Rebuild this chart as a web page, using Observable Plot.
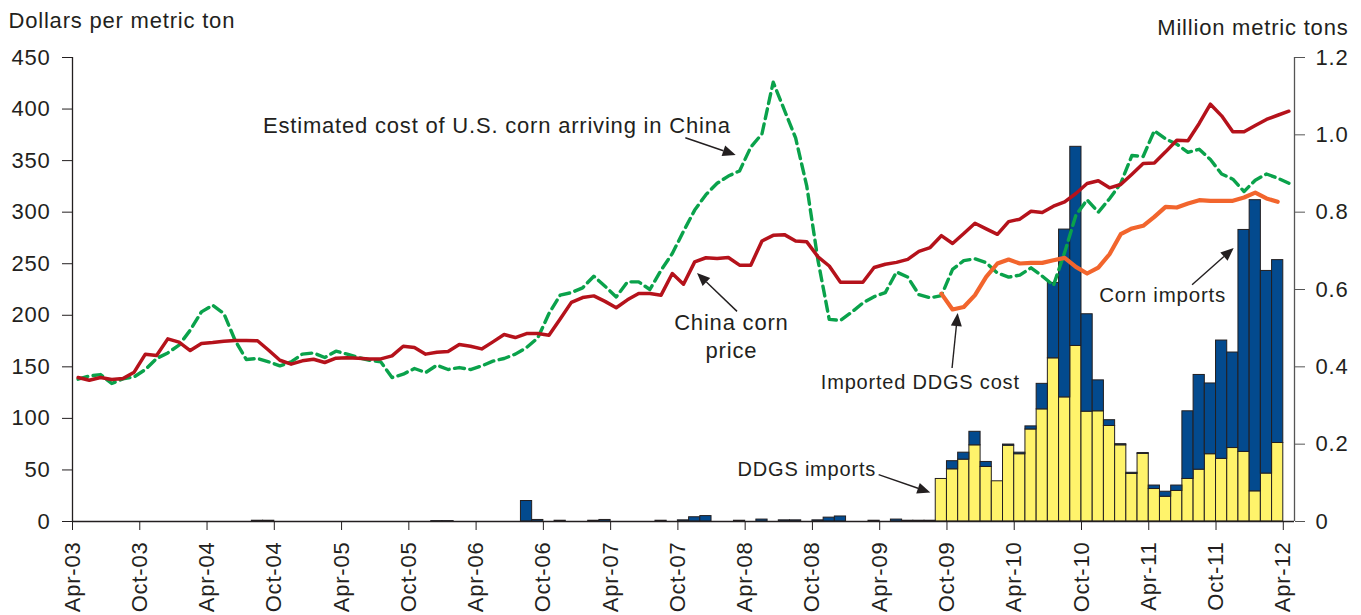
<!DOCTYPE html>
<html><head><meta charset="utf-8">
<script src="https://cdn.jsdelivr.net/npm/d3@7"></script>
<script src="https://cdn.jsdelivr.net/npm/@observablehq/plot@0.6"></script>
<style>
html,body{margin:0;padding:0;background:#fff;}
#chart{width:1361px;height:615px;}
</style></head><body><div id="chart"></div>
<script>
// Month index 0 = Apr-03 ... 108 = Apr-12
const tickLabels = ["Apr-03","Oct-03","Apr-04","Oct-04","Apr-05","Oct-05","Apr-06","Oct-06","Apr-07","Oct-07","Apr-08","Oct-08","Apr-09","Oct-09","Apr-10","Oct-10","Apr-11","Oct-11","Apr-12"];

// Dollars per metric ton, Apr-03 .. Apr-12
const chinaCornPrice = [
 139.6,137,139.6,137.7,138.7,144.8,162.3,161,177.1,173.9,
 165.8,172.6,173.6,174.9,175.6,175.6,175.3,166.1,156.4,152.6,
 155.8,157.4,154.2,158.4,158.7,158.4,157.7,157.7,160.6,170,
 168.7,162.3,164.2,164.9,171.6,170,167.4,174.2,181.3,178.4,
 182.3,182.3,180.7,196.5,212.5,217.2,218.8,213.5,207.3,215,
 221.1,221.1,219.5,240.5,230.1,251.8,255.8,255,256,248.6,
 248.6,272,277.5,278.2,272,271.2,256.6,247.8,232,232,
 232,246.3,249.5,251.3,254.2,262,265.7,277.2,269.6,279.3,
 289.3,283.8,278.5,290.8,293.2,300.9,299.7,305.8,310,318.1,
 327.8,330.4,323.6,326.8,336.8,347.2,347.8,358.5,369.8,369.2,
 386,404.7,393.4,377.9,377.9,384,389.9,394,397.9];

const usCornCost = [
 138,141.2,142.5,133.8,138.3,140.3,147.4,158.1,163.5,171,
 185.5,203.3,209.8,201.7,175.8,157.1,158.1,154.8,150.9,154.8,
 162.3,163.5,159,165.2,162.3,159,156.4,154.8,139.6,142.9,
 148.4,144.5,151.6,147.4,149.3,147.4,150.9,155.5,158.1,162.3,
 168.7,178,201.7,219.5,222,226.6,237.9,228.2,217.8,232.4,
 232.4,225,243.7,259.9,281.5,302,317,328,335,340,
 363,376,426,399,372,325,253,196,195,203,
 212,218,222,242,237,220,217,219,244.5,253,
 254.7,251,241,237,239,246,238,229,261,297,
 312,300,313,328,355,354,379,371,366,358,
 361,351,337,332,320,331,337,333,328];

// Sep-09 .. Mar-12
const ddgsStartMonth = 77;
const ddgsCost = [221,205.6,208.1,219.5,237.2,250.2,254,250.2,250.8,250.8,253.4,255.7,246.9,240.5,246.3,259.2,278.6,284.2,286.8,295.4,305.1,304.5,308.4,311.6,311,311,311,314.2,319,313.3,310.1];

// Million metric tons
const ddgsImports = [0.110,0.135,0.160,0.197,0.141,0.104,0.196,0.174,0.238,0.290,0.422,0.321,0.454,0.284,0.285,0.247,0.197,0.123,0.175,0.084,0.064,0.079,0.110,0.134,0.174,0.162,0.190,0.180,0.078,0.124,0.203];

// Apr-03 .. Mar-12
const cornImports = [
 0,0,0,0,0,0,0,0,0,0,0,0,
 0,0,0,0,0.002,0.002,0,0,0,0,0,0,
 0,0,0,0,0,0,0,0,0.001,0.001,0,0,
 0,0,0,0,0.053,0.004,0,0.002,0,0,0.002,0.004,
 0,0,0,0,0.002,0,0.003,0.011,0.014,0,0,0.002,
 0,0.005,0,0.003,0.003,0,0.003,0.010,0.013,0,0,0.002,
 0,0.005,0.002,0.002,0.002,0,0.021,0.018,0.035,0.013,0,0.003,
 0.004,0.008,0.066,0.195,0.434,0.515,0.252,0.080,0.015,0.003,0.003,0.002,
 0.009,0.013,0.014,0.175,0.245,0.183,0.306,0.247,0.574,0.753,0.524,0.473];

const leftTicks = [0,50,100,150,200,250,300,350,400,450];
const rightTicks = [0,0.2,0.4,0.6,0.8,1.0,1.2];

// annotation texts (month index, dollars)
const labels = [
 {text:"Estimated cost of U.S. corn arriving in China", x:17.0, y:383.4, anchor:"start", size:22},
 {text:"China corn", x:58.77, y:192.3, anchor:"middle", size:22},
 {text:"price", x:58.77, y:165.8, anchor:"middle", size:22},
 {text:"Imported DDGS cost", x:66.75, y:135.1, anchor:"start", size:20},
 {text:"Corn imports", x:91.58, y:218.8, anchor:"start", size:20.5},
 {text:"DDGS imports", x:59.32, y:50, anchor:"start", size:20}
];
const arrows = [
 {x1:54.71, y1:371.7, x2:59.2, y2:355},
 {x1:59.32, y1:203.3, x2:55.75, y2:240.5},
 {x1:78.5, y1:148.4, x2:79.0, y2:201.7},
 {x1:99.91, y1:229.2, x2:103.62, y2:264.8},
 {x1:71.95, y1:44.9, x2:76.56, y2:27.7}
];

const f = 450 / 1.2; // tons -> dollar axis
const priceRows = chinaCornPrice.map((v, i) => ({m: i + 0.5, v}));
const costRows = usCornCost.map((v, i) => ({m: i + 0.5, v}));
const ddgsCostRows = ddgsCost.map((v, i) => ({m: ddgsStartMonth + i + 0.5, v}));
const barRows = cornImports.map((c, i) => {
  const d = i >= ddgsStartMonth ? ddgsImports[i - ddgsStartMonth] : 0;
  return {m: i, ddgs: d, corn: c};
});

const FONT = "'Liberation Sans', Arial, Helvetica, sans-serif";
const INK = "#231f20";

const chart = Plot.plot({
  width: 1361, height: 615,
  marginLeft: 72, marginRight: 67, marginTop: 57, marginBottom: 94,
  style: {fontFamily: FONT, fontSize: "22px", color: INK, background: "#fff", overflow: "visible", letterSpacing: "0.8px"},
  x: {type: "linear", domain: [0, 109]},
  y: {domain: [0, 450]},
  marks: [
    Plot.rect(barRows.filter(d => d.ddgs > 0), {x1: "m", x2: d => d.m + 1, y1: 0, y2: d => d.ddgs * f, fill: "#fff36b", stroke: INK, strokeWidth: 1}),
    Plot.rect(barRows.filter(d => d.corn > 0), {x1: "m", x2: d => d.m + 1, y1: d => d.ddgs * f, y2: d => (d.ddgs + d.corn) * f, fill: "#034a8e", stroke: INK, strokeWidth: 1}),
    Plot.ruleY([0], {stroke: INK, strokeWidth: 1.3}),
    Plot.ruleX([0], {stroke: INK, strokeWidth: 1.3}),
    Plot.ruleX([109], {stroke: "#555", strokeWidth: 1.3}),
    Plot.line(costRows, {x: "m", y: "v", stroke: "#0aa24b", strokeWidth: 3.4, strokeDasharray: "10,5.5"}),
    Plot.line(ddgsCostRows, {x: "m", y: "v", stroke: "#f2652d", strokeWidth: 4.2}),
    Plot.line(priceRows, {x: "m", y: "v", stroke: "#b5121b", strokeWidth: 3.5}),
    Plot.axisY({anchor: "left", ticks: leftTicks, tickSize: 10, tickPadding: 12, fontSize: 22, stroke: INK}),
    Plot.axisY({anchor: "right", ticks: rightTicks.map(t => t * f), tickFormat: d => d === 0 ? "0" : (d / f).toFixed(1), tickSize: 10, tickPadding: 11, fontSize: 22, stroke: "#555"}),
    Plot.axisX({anchor: "bottom", ticks: tickLabels.map((_, i) => i * 6), tickFormat: d => tickLabels[Math.round(d / 6)], tickRotate: -90, tickSize: 9, tickPadding: 11, fontSize: 22, stroke: INK}),
    Plot.text(labels.filter(d => d.anchor === "start"), {x: "x", y: "y", text: "text", textAnchor: "start", lineAnchor: "middle", fontSize: "size", fill: INK}),
    Plot.text(labels.filter(d => d.anchor === "middle"), {x: "x", y: "y", text: "text", textAnchor: "middle", lineAnchor: "middle", fontSize: "size", fill: INK}),
    Plot.text(["Dollars per metric ton"], {frameAnchor: "top-left", dx: -64, dy: -36.5, textAnchor: "start", lineAnchor: "middle", fontSize: 22, fill: INK}),
    Plot.text(["Million metric tons"], {frameAnchor: "top-right", dx: 54, dy: -30, textAnchor: "end", lineAnchor: "middle", fontSize: 22, fill: INK})
  ]
});
document.getElementById("chart").appendChild(chart);

const sx = chart.scale("x"), sy = chart.scale("y");
const g = d3.select(chart).append("g");
for (const a of arrows) {
  const x1 = sx.apply(a.x1), y1 = sy.apply(a.y1), x2 = sx.apply(a.x2), y2 = sy.apply(a.y2);
  const ang = Math.atan2(y2 - y1, x2 - x1);
  const L = 13, W = 5.5;
  const bx = x2 - L * Math.cos(ang), by = y2 - L * Math.sin(ang);
  g.append("line").attr("x1", x1).attr("y1", y1).attr("x2", bx).attr("y2", by).attr("stroke", INK).attr("stroke-width", 1.4);
  g.append("path").attr("d", `M${x2},${y2}L${bx - W * Math.sin(ang)},${by + W * Math.cos(ang)}L${bx + W * Math.sin(ang)},${by - W * Math.cos(ang)}Z`).attr("fill", INK);
}
</script></body></html>
